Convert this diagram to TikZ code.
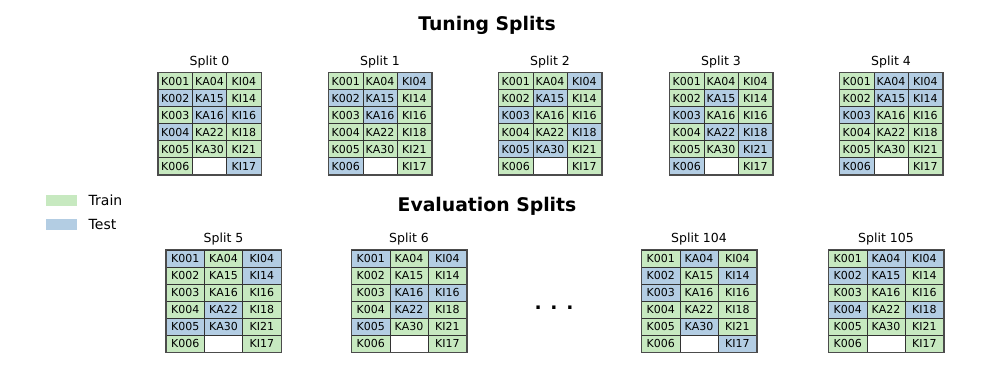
\documentclass[tikz,border=0pt]{standalone}
\usepackage{fontspec}
\setmainfont{DejaVu Sans}
\usetikzlibrary{positioning}
\definecolor{tr}{HTML}{C7E9C0}
\definecolor{te}{HTML}{B3CDE3}
\newcommand{\kaname}[1]{\ifcase#1\or KA04\or KA15\or KA16\or KA22\or KA30\or\fi}
\newcommand{\kiname}[1]{\ifcase#1\or KI04\or KI14\or KI16\or KI18\or KI21\or KI17\fi}
% one split: id, centre x, top y, column width, row colours
\newcommand{\splitgrid}[5]{%
  \node[splitlabel] (lab#1) at (#2, #3-7.5) {Split #1};
  \foreach \ca/\cb/\cc [count=\row] in {#5} {
    \node[cell, minimum width=#4pt, fill=\ca] (s#1-\row-1) at ({#2-#4}, {#3+(\row-0.5)*17}) {K00\row};
    \node[cell, minimum width=#4pt, fill=\cb] (s#1-\row-2) at (#2, {#3+(\row-0.5)*17}) {\kaname{\row}};
    \node[cell, minimum width=#4pt, fill=\cc] (s#1-\row-3) at ({#2+#4}, {#3+(\row-0.5)*17}) {\kiname{\row}};
  }
  \draw[frame] (s#1-1-1.north west) rectangle (s#1-6-3.south east);
}

\begin{document}
\begin{tikzpicture}[
  x=1pt,
  y=-1pt,
  cell/.style={rectangle, draw=black!80, line width=0.6pt, inner sep=0pt, minimum height=17pt, font=\fontsize{11}{13}\selectfont},
  frame/.style={draw=black!70, line width=1.5pt},
  splitlabel/.style={anchor=base, font=\fontsize{12.5}{15}\selectfont},
  heading/.style={anchor=base, font=\fontsize{18.8}{22}\selectfont\bfseries},
  legpatch/.style={rectangle, inner sep=0pt, minimum width=31pt, minimum height=11pt},
  legtext/.style={font=\fontsize{14}{17}\selectfont}
]
  \useasboundingbox (0, 0) rectangle (996, 377);
  % Headings
  \node[heading] (tuning) at (487, 31) {Tuning Splits};
  \node[heading] (evaluation) at (487, 211) {Evaluation Splits};
  % Legend
  \node[legpatch, fill=tr] (trainkey) at (61.5, 200.5) {};
  \node[legpatch, fill=te] (testkey) at (61.5, 224) {};
  \node[legtext, right=8pt of trainkey] (trainlab) {Train};
  \node[legtext, right=8pt of testkey] (testlab) {Test};
  % Tuning splits
  \splitgrid{0}{209.5}{72.7}{34.3}{tr/tr/tr, te/te/tr, tr/te/te, te/tr/tr, tr/tr/tr, tr/white/te}
  \splitgrid{1}{380}{72.7}{34.3}{tr/tr/te, te/te/tr, tr/te/tr, tr/tr/tr, tr/tr/tr, te/white/tr}
  \splitgrid{2}{550}{72.7}{34.3}{tr/tr/te, tr/te/tr, te/tr/tr, tr/tr/te, te/te/tr, tr/white/tr}
  \splitgrid{3}{721}{72.7}{34.3}{tr/tr/tr, tr/te/tr, te/tr/tr, tr/te/te, tr/tr/te, te/white/tr}
  \splitgrid{4}{891}{72.7}{34.3}{tr/te/te, tr/te/te, te/tr/tr, tr/tr/tr, tr/tr/tr, te/white/tr}
  % Evaluation splits
  \splitgrid{5}{223.5}{250}{38.3}{te/tr/te, tr/tr/te, tr/tr/tr, tr/te/tr, te/te/tr, tr/white/tr}
  \splitgrid{6}{409}{250}{38.3}{te/tr/te, tr/tr/tr, tr/te/te, tr/te/tr, te/tr/tr, tr/white/tr}
  \node[heading, anchor=center] (more) at (554, 308) {. . .};
  \splitgrid{104}{699}{250}{38.3}{tr/te/tr, te/tr/te, te/tr/tr, tr/tr/tr, tr/te/tr, tr/white/te}
  \splitgrid{105}{886}{250}{38.3}{tr/te/te, te/te/tr, tr/tr/tr, te/tr/te, tr/tr/tr, tr/white/tr}
\end{tikzpicture}
\end{document}
